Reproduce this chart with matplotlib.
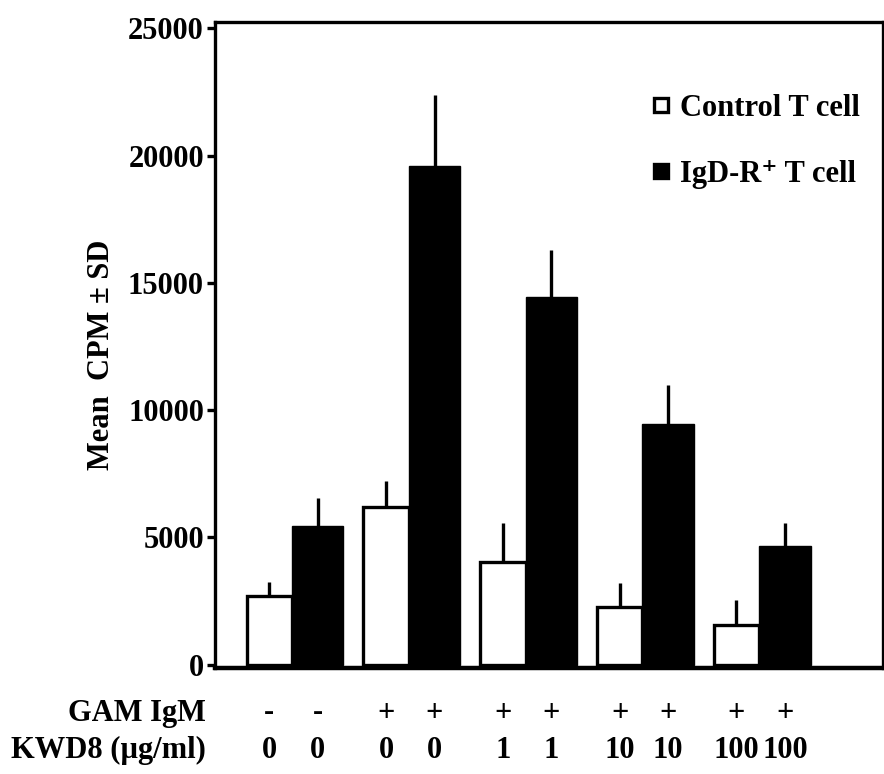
import numpy as np
import matplotlib.pyplot as plt
from matplotlib.lines import Line2D
from matplotlib.transforms import blended_transform_factory

plt.rcParams['font.family'] = ['Liberation Serif', 'DejaVu Serif']
plt.rcParams['font.weight'] = 'bold'

#--datos
gam_igm = ['-', '+', '+', '+', '+']
kwd8 = ['0', '0', '1', '10', '100']
control = [2700, 6200, 4050, 2250, 1550]
control_sd = [550, 1000, 1500, 950, 1000]
igdr = [5450, 19600, 14450, 9450, 4650]
igdr_sd = [1100, 2800, 1850, 1550, 900]

x = np.arange(len(kwd8))
w_white = 0.39
w_black = 0.44
fs = 22

fig = plt.figure(figsize=(8.84, 7.74), dpi=100)
ax = fig.add_axes([215/884, 106/774, 668/884, 646/774])

ax.bar(x, control, width=-w_white, align='edge', color='white', edgecolor='black', linewidth=2.4)
ax.bar(x, igdr, width=w_black, align='edge', color='black', edgecolor='black', linewidth=1)
ax.errorbar(x - w_white/2, control, yerr=[np.zeros(5), control_sd], fmt='none', ecolor='black', elinewidth=2.4, capsize=0)
ax.errorbar(x + w_black/2, igdr, yerr=[np.zeros(5), igdr_sd], fmt='none', ecolor='black', elinewidth=2.4, capsize=0)

ax.set_xlim(-0.66, 5.06)
ax.set_ylim(-130, 25250)
ax.set_yticks(np.arange(0, 25001, 5000))
ax.set_xticks([])
ax.tick_params(axis='y', labelsize=fs, width=2.4, length=6, direction='out', pad=2)
for s in ax.spines.values():
    s.set_linewidth(2.4)
ax.spines['bottom'].set_linewidth(3.2)

ax.set_ylabel('Mean  CPM \u00b1 SD', fontsize=fs, fontweight='bold')
ax.yaxis.set_label_coords(-0.148, 0.485)

#--leyenda
handles = [Line2D([], [], marker='s', ls='none', mfc='white', mec='black', mew=2.4, ms=10),
           Line2D([], [], marker='s', ls='none', mfc='black', mec='black', mew=2.4, ms=10)]
fig.legend(handles, ['Control T cell', 'IgD-R\u207a T cell'], loc='upper left',
           bbox_to_anchor=(652/884, 1 - 94/774), frameon=False, fontsize=fs,
           handlelength=0.6, handletextpad=0.33, labelspacing=1.2, borderpad=0, borderaxespad=0)

#--etiquetas de condiciones
tr = blended_transform_factory(ax.transData, fig.transFigure)
centers = np.concatenate([x - w_white/2, x + w_black/2])
gam_all = gam_igm + gam_igm
kwd_all = kwd8 + kwd8
for cx, g, k in zip(centers, gam_all, kwd_all):
    ax.text(cx, 1 - 713/774, g, transform=tr, ha='center', va='center', fontsize=fs, fontweight='bold')
    ax.text(cx, 1 - 750/774, k, transform=tr, ha='center', va='center', fontsize=fs, fontweight='bold')
fig.text(206/884, 1 - 713/774, 'GAM IgM', ha='right', va='center', fontsize=fs, fontweight='bold')
fig.text(206/884, 1 - 750/774, 'KWD8 (\u00b5g/ml)', ha='right', va='center', fontsize=fs, fontweight='bold')

fig.savefig('out.png', dpi=100)
